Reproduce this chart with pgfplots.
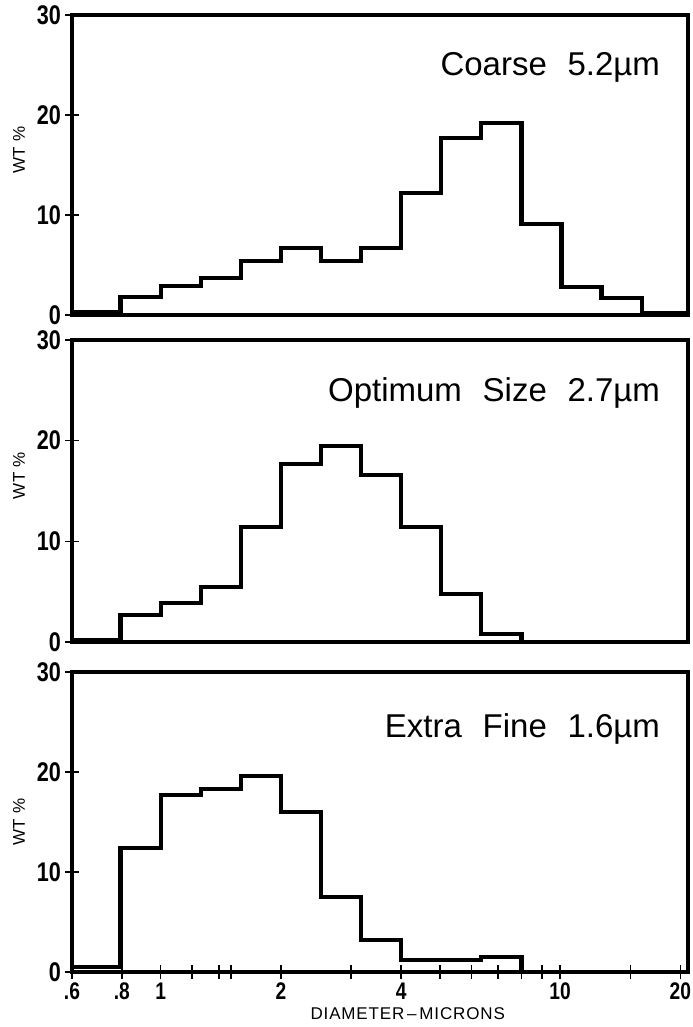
\documentclass[border=0pt]{standalone}
\usepackage{fontspec}
\setmainfont{Liberation Sans}
\newfontfamily\condfont{Liberation Sans}[FakeStretch=0.8]
\usepackage{pgfplots}
\pgfplotsset{compat=1.18}

\pgfplotsset{
  mypanel/.style={
    scale only axis,
    width=308pt,
    xmin=0.6, xmax=20.9,
    ymin=0, ymax=30,
    ytick={0,10,20,30},
    yticklabels={0,10,20,30},
    tick pos=left,
    tick align=center,
    major tick length=7pt,
    minor tick length=7pt,
    tick style={line width=0.8pt, black},
    axis line style={line width=2pt},
    clip=false,
    /pgf/number format/assume math mode=true,
    yticklabel style={font=\condfont\bfseries\fontsize{13.5}{13.5}\selectfont, xshift=1.5pt},
    xticklabel style={font=\condfont\bfseries\fontsize{12}{12}\selectfont, yshift=1.5pt},
    ylabel={WT \%},
    ylabel style={at={(rel axis cs:-0.086,0.55)}, rotate=0, anchor=center, font=\fontsize{8.5}{8.5}\selectfont},
  },
  histline/.style={const plot, line width=2.1pt, black, mark=none},
}
\tikzset{paneltag/.style={anchor=base east, font=\fontsize{16.5}{16.5}\selectfont}}

\begin{document}
\begin{tikzpicture}
\useasboundingbox (0,0) rectangle (346pt,513.5pt);

% Coarse
\begin{axis}[xmode=log, mypanel, height=150pt, at={(36pt,356pt)}, anchor=south west,
             xtick=\empty, minor xtick={}]
\addplot[histline] coordinates {
  (0.6,0.3) (0.794,1.8) (1.0,2.9) (1.26,3.7) (1.587,5.4) (2.0,6.7)
  (2.52,5.4) (3.175,6.7) (4.0,12.2) (5.04,17.7) (6.35,19.2) (8.0,9.1)
  (10.08,2.8) (12.7,1.7) (16.0,0.2) (20.9,0.2)
};
\node[paneltag] at (rel axis cs:0.966,0.797) {Coarse\hspace{0.35em} 5.2µm};
\end{axis}

% Optimum size
\begin{axis}[xmode=log, mypanel, height=151pt, at={(36pt,192.5pt)}, anchor=south west,
             xtick=\empty, minor xtick={}]
\addplot[histline] coordinates {
  (0.6,0.2) (0.794,2.7) (1.0,3.9) (1.26,5.5) (1.587,11.4) (2.0,17.7)
  (2.52,19.5) (3.175,16.6) (4.0,11.4) (5.04,4.8) (6.35,0.8) (8.0,0)
  (20.9,0)
};
\node[paneltag] at (rel axis cs:0.966,0.795) {Optimum\hspace{0.35em} Size\hspace{0.35em} 2.7µm};
\end{axis}

% Extra fine
\begin{axis}[xmode=log, mypanel, height=150pt, at={(36pt,27.5pt)}, anchor=south west,
             xtick={0.6,0.8,1,2,4,10,20},
             xticklabels={.6,.8,1,2,4,10,20},
             minor xtick={1.2,1.4,1.5,3,5,6,7,8,9,15},
             xlabel={DIAMETER\,–\,MICRONS},
             xlabel style={at={(rel axis cs:0.545,0)}, yshift=-21pt, anchor=center,
               font=\addfontfeatures{LetterSpace=5}\fontsize{8.5}{8.5}\selectfont},
             ylabel style={at={(rel axis cs:-0.086,0.5)}}]
\addplot[histline] coordinates {
  (0.6,0.5) (0.794,12.4) (1.0,17.7) (1.26,18.3) (1.587,19.6) (2.0,16.0)
  (2.52,7.5) (3.175,3.2) (4.0,1.2) (5.04,1.2) (6.35,1.5) (8.0,0)
  (20.9,0)
};
\node[paneltag] at (rel axis cs:0.966,0.78) {Extra\hspace{0.35em} Fine\hspace{0.35em} 1.6µm};
\end{axis}
\end{tikzpicture}
\end{document}
